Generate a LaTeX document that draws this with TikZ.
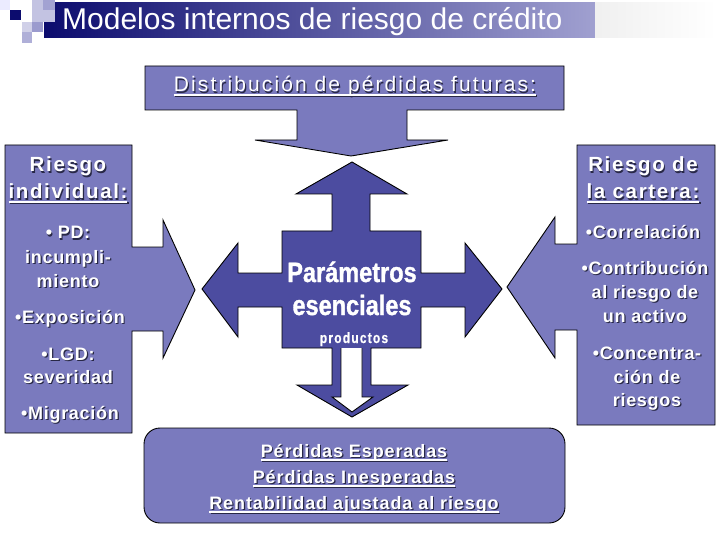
\documentclass[tikz,border=0pt]{standalone}
\usepackage{fontspec}
\setmainfont{Liberation Sans}
\newfontfamily\lsA[LetterSpace=10]{Liberation Sans}
\newfontfamily\lsH[LetterSpace=8]{Liberation Sans}
\newfontfamily\lsB[LetterSpace=4]{Liberation Sans}
\newfontfamily\lsC[LetterSpace=5]{Liberation Sans}
\newfontfamily\lsD[FakeStretch=0.84,FakeBold=1.2]{Liberation Sans}
\newfontfamily\lsE[FakeStretch=0.8,LetterSpace=8,FakeBold=0.6]{Liberation Sans}
\newcommand\fTitle{\fontsize{30}{34}\selectfont}
\newcommand\fDist{\lsA\fontsize{21}{24}\selectfont}
\newcommand\fHead{\lsH\bfseries\fontsize{20.5}{24}\selectfont}
\newcommand\fBul{\lsB\bfseries\fontsize{18}{21}\selectfont}
\newcommand\fBot{\lsC\bfseries\fontsize{18}{21}\selectfont}
\newcommand\fPar{\lsD\bfseries\fontsize{28}{30}\selectfont}
\newcommand\fProd{\lsE\bfseries\fontsize{15}{17}\selectfont}
\definecolor{lp}{RGB}{122,122,190}
\definecolor{dp}{RGB}{76,76,160}
\definecolor{navy}{RGB}{12,12,110}
\definecolor{barend}{RGB}{160,160,208}
\definecolor{shc}{RGB}{40,40,70}
\newcommand\ul[1]{\setbox0\hbox{#1}\rlap{\rule[-4pt]{\wd0}{1.7pt}}\box0}
\newcommand\shd[1]{\leavevmode\rlap{\kern1.2pt\raisebox{-1.2pt}{\color{shc}#1}}#1}
\begin{document}
\begin{tikzpicture}[x=1pt,y=-1pt,
  lbox/.style={fill=lp,draw=black,line width=0.9pt},
  dbox/.style={fill=dp,draw=black,line width=0.9pt},
  wt/.style={text=white,inner sep=0pt,anchor=base}]
\useasboundingbox[fill=white] (0,0) rectangle (720,540);
% title bar
\shade[left color=navy,right color=barend] (44,3) rectangle (595,38);
\shade[left color=black!6,right color=white] (595,3) rectangle (716,38);
\fill[blue!8!white] (0,0) rectangle (10,10);
\fill[navy] (10,10) rectangle (21,20);
\fill[lp!45!white] (32,0) rectangle (55,22);
\fill[lp!70!white] (43,0) rectangle (55,10);
\fill[lp!35!white] (22,22) rectangle (32,32);
\fill[lp!75!white] (32,22) rectangle (43,32);
\fill[lp!60!white] (22,32) rectangle (32,43);
\node[wt,anchor=base west] (title) at (62,30) {\fTitle Modelos internos de riesgo de crédito};
% top callout
\path[lbox] (145,66) -- (564,66) -- (564,110) -- (407,110) -- (407,140) -- (448,140) -- (351,156) -- (255,140) -- (297,140) -- (297,110) -- (145,110) -- cycle;
% left callout
\path[lbox] (5,145) -- (132,145) -- (132,247) -- (163,247) -- (163,220) -- (195,290) -- (163,358) -- (163,331) -- (132,331) -- (132,433) -- (5,433) -- cycle;
% right callout
\path[lbox] (577,145) -- (715,145) -- (715,425) -- (577,425) -- (577,330) -- (555,330) -- (555,358) -- (507,287) -- (555,217) -- (555,244) -- (577,244) -- cycle;
% center four-way arrow
\path[dbox] (352,162) -- (407,194) -- (370,194) -- (370,231) -- (421,231) -- (421,273) -- (465,273) -- (465,243) -- (502,289) -- (465,337) -- (465,307) -- (421,307) -- (421,348) -- (371,348) -- (371,385) -- (408,385) -- (352,417) -- (297,385) -- (332,385) -- (332,348) -- (282,348) -- (282,307) -- (238,307) -- (238,337) -- (202,289) -- (238,243) -- (238,273) -- (282,273) -- (282,231) -- (332,231) -- (332,194) -- (296,194) -- cycle;
\fill[white] (341,348) -- (341,397) -- (332,397) -- (352,412) -- (373,397) -- (362,397) -- (362,348) -- cycle;
\draw[line width=0.9pt,line join=miter] (341,348) -- (341,397) -- (332,397) -- (352,412) -- (373,397) -- (362,397) -- (362,348);
% bottom box
\path[lbox,rounded corners=16pt] (144,428) rectangle (565,523);
% texts
\node[wt] (dist) at (355,92) {\fDist\shd{\ul{Distribución de pérdidas futuras:}}};
\node[wt] (l1) at (68,172) {\fHead\shd{Riesgo}};
\node[wt] (l2) at (68,199) {\fHead\shd{\ul{individual:}}};
\node[wt] (l3) at (68,239) {\fBul\shd{• PD:}};
\node[wt] (l4) at (68,263) {\fBul\shd{incumpli-}};
\node[wt] (l5) at (68,287) {\fBul\shd{miento}};
\node[wt] (l6) at (70,323) {\fBul\shd{•Exposición}};
\node[wt] (l7) at (68,360) {\fBul\shd{•LGD:}};
\node[wt] (l8) at (68,383) {\fBul\shd{severidad}};
\node[wt] (l9) at (70,419) {\fBul\shd{•Migración}};
\node[wt] (r1) at (643,172) {\fHead\shd{Riesgo de}};
\node[wt] (r2) at (643,199) {\fHead\shd{\ul{la cartera:}}};
\node[wt] (r3) at (643,238) {\fBul\shd{•Correlación}};
\node[wt] (r4) at (645,274) {\fBul\shd{•Contribución}};
\node[wt] (r5) at (645,298) {\fBul\shd{al riesgo de}};
\node[wt] (r6) at (645,322) {\fBul\shd{un activo}};
\node[wt] (r7) at (647,359) {\fBul\shd{•Concentra-}};
\node[wt] (r8) at (647,383) {\fBul\shd{ción de}};
\node[wt] (r9) at (647,406) {\fBul\shd{riesgos}};
\node[wt] (p1) at (352,282) {\fPar Parámetros};
\node[wt] (p2) at (352,315) {\fPar esenciales};
\node[wt] (p3) at (354,343) {\fProd productos};
\node[wt] (b1) at (354,457) {\fBot\shd{\ul{Pérdidas Esperadas}}};
\node[wt] (b2) at (354,483) {\fBot\shd{\ul{Pérdidas Inesperadas}}};
\node[wt] (b3) at (354,509) {\fBot\shd{\ul{Rentabilidad ajustada al riesgo}}};
\end{tikzpicture}
\end{document}
